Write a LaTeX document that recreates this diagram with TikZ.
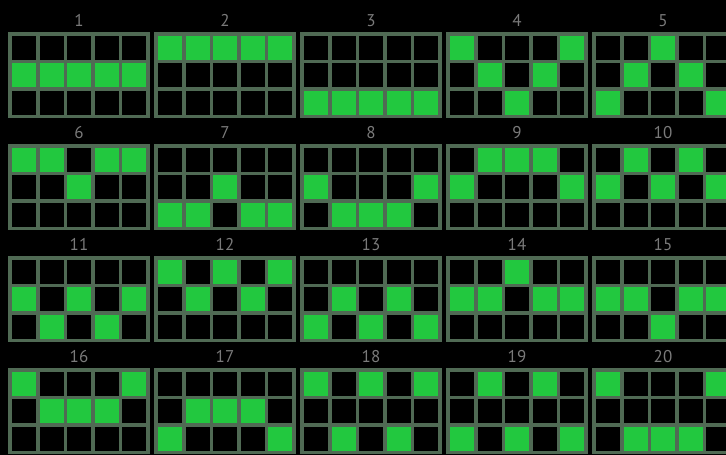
\documentclass[tikz,border=0pt]{standalone}
\usepackage{fontspec}
\setmainfont{PT Sans}
\usetikzlibrary{calc}
\definecolor{framecol}{HTML}{506A54}
\definecolor{lit}{HTML}{22C83F}
\definecolor{labcol}{HTML}{7A7A7A}
\tikzset{
  panel/.style={fill=framecol, minimum width=142pt, minimum height=86pt, inner sep=0pt, outer sep=0pt, anchor=north west},
  numlabel/.style={text=labcol, font=\fontsize{17}{17}\selectfont, inner sep=0pt, anchor=base},
}
\begin{document}
\begin{tikzpicture}[x=1pt,y=-1pt]
\useasboundingbox (0,0) rectangle (726,455);
\fill[black] (0,0) rectangle (726,455);
\foreach \n/\a/\b/\c/\d/\e in {
  1/1/1/1/1/1, 2/0/0/0/0/0, 3/2/2/2/2/2, 4/0/1/2/1/0, 5/2/1/0/1/2,
  6/0/0/1/0/0, 7/2/2/1/2/2, 8/1/2/2/2/1, 9/1/0/0/0/1, 10/1/0/1/0/1,
  11/1/2/1/2/1, 12/0/1/0/1/0, 13/2/1/2/1/2, 14/1/1/0/1/1, 15/1/1/2/1/1,
  16/0/1/1/1/0, 17/2/1/1/1/2, 18/0/2/0/2/0, 19/2/0/2/0/2, 20/0/2/2/2/0}{
  \pgfmathtruncatemacro\col{mod(\n-1,5)}
  \pgfmathtruncatemacro\row{int((\n-1)/5)}
  \pgfmathsetmacro\px{8+146*\col}
  \pgfmathsetmacro\py{32+112*\row}
  \node[panel] (p\n) at (\px,\py) {};
  \node[numlabel] (l\n) at ([yshift=6pt]p\n.north) {\n};
  \foreach \k/\v in {0/\a,1/\b,2/\c,3/\d,4/\e}{
    \foreach \r in {0,1,2}{
      \ifnum\r=\v \def\cc{lit}\else\def\cc{black}\fi
      \fill[\cc] ($(p\n.north west)+(4+27.5*\k,3.5+27.5*\r)$) rectangle +(24,24);
    }
  }
}
\end{tikzpicture}
\end{document}
